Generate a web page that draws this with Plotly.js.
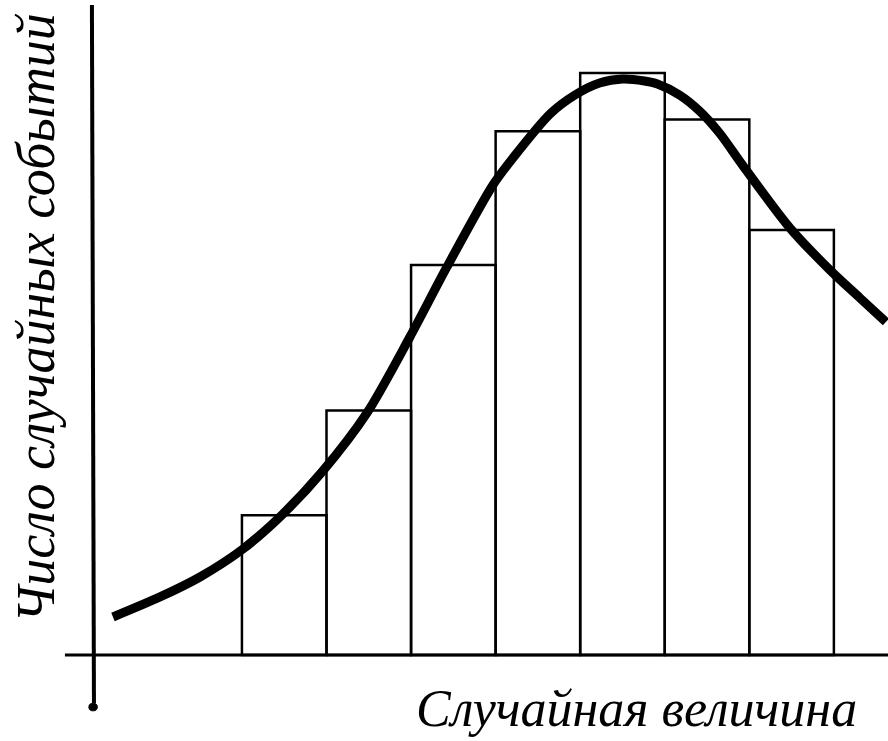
<!DOCTYPE html>
<html>
<head>
<meta charset="utf-8">
<script src="https://cdn.plot.ly/plotly-3.0.1.min.js"></script>
<style>html,body{margin:0;padding:0;background:#fff;}#chart{width:888px;height:741px;}</style>
</head>
<body>
<div id="chart"></div>
<script>
// Histogram classes (bar centres) and counts (relative, peak = 100)
var classes = [1, 2, 3, 4, 5, 6, 7];
var counts = [24, 42, 67, 90, 100, 92, 73];

// Hand-drawn smooth curve
var curveX = [-1.025, -0.469, 0.004, 0.512, 0.985, 1.446, 1.978, 2.486, 2.924, 3.468, 3.705, 4.143, 4.438, 4.729, 5.000, 5.260, 5.414, 5.674, 5.911, 6.147, 6.419, 6.980, 7.453, 7.808, 8.115];
var curveY = [6.53, 9.97, 13.40, 18.21, 24.23, 31.44, 41.58, 54.64, 66.67, 80.76, 85.40, 92.96, 96.22, 98.28, 98.97, 98.63, 98.11, 96.22, 93.47, 89.69, 84.19, 73.37, 66.15, 61.34, 57.22];

var xLabel = 'Случайная величина';
var yLabel = 'Число случайных событий';

var bars = {
  type: 'bar', x: classes, y: counts,
  marker: {color: 'rgba(255,255,255,0)', line: {color: '#000', width: 2.5}},
  hoverinfo: 'skip', showlegend: false
};
var curve = {
  type: 'scatter', mode: 'lines', x: curveX, y: curveY,
  line: {color: '#000', width: 9, shape: 'spline', smoothing: 0.8},
  hoverinfo: 'skip', showlegend: false
};

var layout = {
  width: 888, height: 741,
  margin: {l: 0, r: 0, t: 0, b: 0},
  paper_bgcolor: '#fff', plot_bgcolor: '#fff',
  bargap: 0,
  xaxis: {range: [-2.361, 8.14], visible: false, fixedrange: true},
  yaxis: {range: [-14.78, 112.54], visible: false, fixedrange: true},
  shapes: [
    {type: 'line', xref: 'x', yref: 'y', x0: -1.274, x1: -1.25, y0: 111.7, y1: -8.3, line: {color: '#000', width: 4}},
    {type: 'line', xref: 'x', yref: 'y', x0: -1.593, x1: 8.2, y0: 0, y1: 0, line: {color: '#000', width: 3}},
    {type: 'circle', xref: 'x', yref: 'y', x0: -1.31, x1: -1.21, y0: -8.3, y1: -9.6, fillcolor: '#000', line: {color: '#000', width: 1}}
  ],
  annotations: [
    {xref: 'paper', yref: 'paper', x: 636 / 888, y: 1 - 708 / 741, xanchor: 'center', yanchor: 'middle',
     text: '<i>' + xLabel + '</i>', showarrow: false,
     font: {family: 'Liberation Serif, DejaVu Serif, serif', size: 52, color: '#000'}},
    {xref: 'paper', yref: 'paper', x: 36 / 888, y: 1 - 318 / 741, xanchor: 'center', yanchor: 'middle',
     text: '<i>' + yLabel + '</i>', showarrow: false, textangle: -90,
     font: {family: 'Liberation Serif, DejaVu Serif, serif', size: 54, color: '#000'}}
  ]
};

Plotly.newPlot('chart', [bars, curve], layout, {displayModeBar: false, staticPlot: true});
</script>
</body>
</html>
